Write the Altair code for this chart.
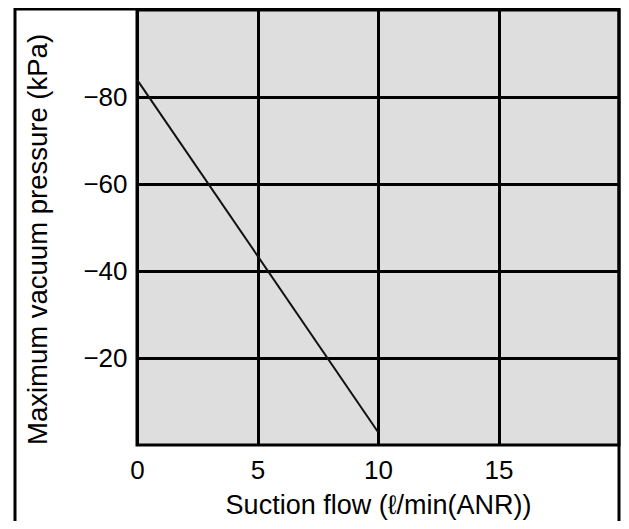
import altair as alt
import pandas as pd

flow = [0, 10]
pressure = [-84, -3]
x_ticks = [0, 5, 10, 15]
y_ticks = [-80, -60, -40, -20]

df = pd.DataFrame({"flow": flow, "pressure": pressure})

FONT = "Liberation Sans"
W = 482
H = 435

x_enc = alt.X(
    "flow:Q",
    scale=alt.Scale(domain=[0, 20], nice=False, zero=False),
    axis=alt.Axis(
        values=x_ticks,
        title="Suction flow (ℓ/min(ANR))",
        ticks=False,
        domain=False,
        grid=True,
        gridColor="black",
        gridWidth=3,
        gridOpacity=1,
        labelFlush=False,
        labelFontSize=26,
        labelFont=FONT,
        labelColor="black",
        labelPadding=12,
        titleFontSize=27,
        titleFont=FONT,
        titleFontWeight="normal",
        titleColor="black",
        titlePadding=9,
    ),
)
y_enc = alt.Y(
    "pressure:Q",
    scale=alt.Scale(domain=[-100, 0], reverse=True, nice=False),
    axis=alt.Axis(
        values=y_ticks,
        title="Maximum vacuum pressure (kPa)",
        ticks=False,
        domain=False,
        grid=True,
        gridColor="black",
        gridWidth=3,
        gridOpacity=1,
        labelFlush=False,
        labelFontSize=26,
        labelFont=FONT,
        labelColor="black",
        labelPadding=10,
        titleFontSize=27.5,
        titleFont=FONT,
        titleFontWeight="normal",
        titleColor="black",
        titleY=229,
        titleX=-113,
        titleAngle=-90,
        titleBaseline="top",
        titleAlign="center",
    ),
)

line = alt.Chart(df).mark_line(color="#111111", strokeWidth=2).encode(x=x_enc, y=y_enc)

frame = alt.Chart(alt.Data(values=[{"a": 1}])).mark_rect(
    filled=False, stroke="black", strokeWidth=3
).encode(
    x=alt.value(-122), x2=alt.value(W), y=alt.value(-1), y2=alt.value(700)
)

chart = (
    alt.layer(line, frame)
    .properties(
        width=W,
        height=H,
        background="white",
        autosize=alt.AutoSizeParams(type="none"),
        padding={"left": 129, "top": 2, "right": 2, "bottom": 76},
    )
    .configure_view(fill="#dedede", stroke="black", strokeWidth=3)
)

chart.save("out.html", embed_options={"renderer": "svg", "actions": False})
